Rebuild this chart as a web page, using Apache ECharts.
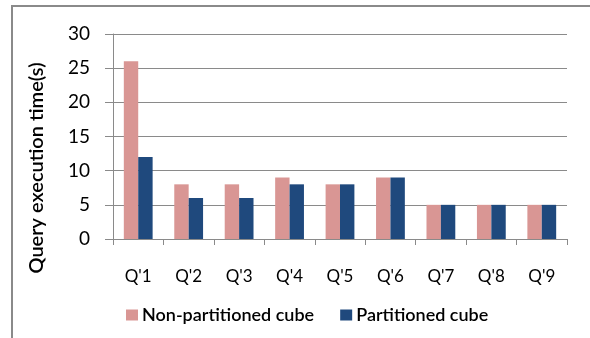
<!DOCTYPE html>
<html>
<head>
<meta charset="utf-8">
<script src="https://cdn.jsdelivr.net/npm/echarts@6/dist/echarts.min.js"></script>
<style>
  html, body { margin: 0; padding: 0; background: #fff; }
  #chart { width: 590px; height: 338px; }
</style>
</head>
<body>
<div id="chart"></div>
<script>
// Query labels and timings (seconds) for each cube layout
const queries = ["Q'1", "Q'2", "Q'3", "Q'4", "Q'5", "Q'6", "Q'7", "Q'8", "Q'9"];
const nonPartitioned = [26, 8, 8, 9, 8, 9, 5, 5, 5];
const partitioned = [12, 6, 6, 8, 8, 9, 5, 5, 5];
const yTicks = { min: 0, max: 30, interval: 5 };

const FONT = 'Lato, "Open Sans", sans-serif';
const chart = echarts.init(document.getElementById('chart'), null, { renderer: 'canvas' });

chart.setOption({
  animation: false,
  backgroundColor: '#fff',
  graphic: [
    {
      type: 'polyline',
      shape: { points: [[12, 338], [12, 6], [590, 6]] },
      style: { stroke: '#8a8a8a', lineWidth: 2, fill: null }
    },
    {
      type: 'text',
      x: 37, y: 168,
      rotation: Math.PI / 2,
      style: {
        text: 'Query execution time(s)',
        font: '600 20px ' + FONT,
        fill: '#000',
        align: 'center',
        verticalAlign: 'middle'
      }
    }
  ],
  grid: { left: 113, right: 23, top: 34, bottom: 99 },
  legend: {
    left: 121, top: 301,
    itemWidth: 12, itemHeight: 11,
    itemGap: 26,
    icon: 'rect',
    textStyle: { fontFamily: FONT, fontSize: 18, fontWeight: 600, color: '#000', padding: [0, 0, 0, -1] },
    data: ['Non-partitioned cube', 'Partitioned cube']
  },
  xAxis: {
    type: 'category',
    data: queries,
    axisLine: { lineStyle: { color: '#8a8a8a', width: 1 } },
    axisTick: { show: true, length: 6, lineStyle: { color: '#8a8a8a' } },
    axisLabel: { fontFamily: FONT, fontSize: 17, color: '#000', margin: 29 }
  },
  yAxis: {
    type: 'value',
    min: yTicks.min, max: yTicks.max, interval: yTicks.interval,
    axisLine: { show: true, lineStyle: { color: '#8a8a8a', width: 1 } },
    axisTick: { show: true, length: 8, lineStyle: { color: '#8a8a8a' } },
    splitLine: { lineStyle: { color: '#8a8a8a', width: 1 } },
    axisLabel: { fontFamily: FONT, fontSize: 19, color: '#000', margin: 23 }
  },
  series: [
    {
      name: 'Non-partitioned cube',
      type: 'bar',
      data: nonPartitioned,
      barWidth: 14.4,
      barGap: '0%',
      itemStyle: { color: '#D99694' }
    },
    {
      name: 'Partitioned cube',
      type: 'bar',
      data: partitioned,
      barWidth: 14.4,
      barGap: '0%',
      itemStyle: { color: '#1F497D' }
    }
  ]
});
</script>
</body>
</html>
